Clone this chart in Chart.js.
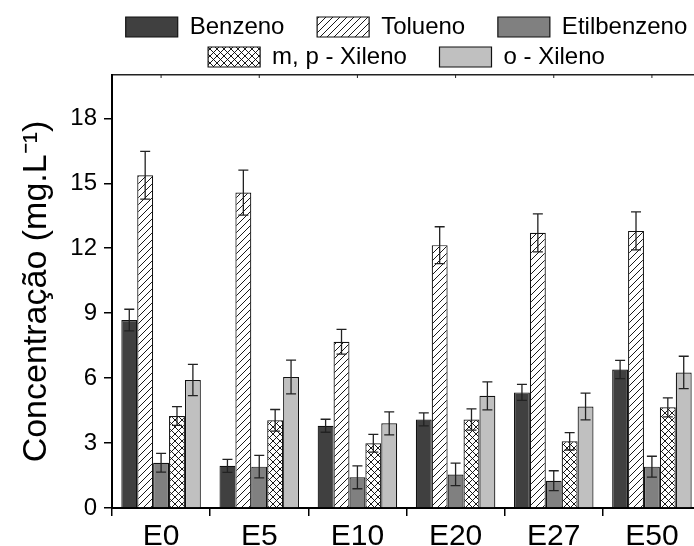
<!DOCTYPE html>
<html lang="pt">
<head>
<meta charset="UTF-8" />
<title>Concentração BTEX</title>
<script src="https://cdn.jsdelivr.net/npm/chart.js"></script>
<style>
  html, body { margin: 0; padding: 0; background: #fff; overflow: hidden; }
  .frame { width: 694px; height: 546px; overflow: hidden; }
</style>
</head>
<body>
<div class="frame">
  <canvas id="btexChart" width="702" height="558"></canvas>
</div>
<script>
// data
const categories = ['E0', 'E5', 'E10', 'E20', 'E27', 'E50'];
const seriesNames = ['Benzeno', 'Tolueno', 'Etilbenzeno', 'm, p - Xileno', 'o - Xileno'];

const benzeno       = [8.68, 1.95, 3.80, 4.09, 5.34, 6.40];
const benzenoErr    = [0.50, 0.30, 0.30, 0.30, 0.37, 0.42];
const tolueno       = [15.37, 14.57, 7.68, 12.14, 12.71, 12.80];
const toluenoErr    = [1.10, 1.04, 0.57, 0.85, 0.88, 0.88];
const etilbenzeno   = [2.09, 1.91, 1.42, 1.55, 1.26, 1.91];
const etilbenzenoErr= [0.43, 0.52, 0.53, 0.52, 0.46, 0.48];
const mpXileno      = [4.25, 4.05, 2.99, 4.09, 3.08, 4.65];
const mpXilenoErr   = [0.43, 0.50, 0.41, 0.49, 0.40, 0.44];
const oXileno       = [5.91, 6.05, 3.91, 5.18, 4.69, 6.26];
const oXilenoErr    = [0.72, 0.78, 0.53, 0.65, 0.62, 0.75];

const yTicks = [0, 3, 6, 9, 12, 15, 18];

Chart.defaults.font.family = '"Liberation Sans", Arial, sans-serif';
Chart.defaults.color = '#000';

// hatch fills
function makePattern(cross) {
    const s = 7;
    const c = document.createElement('canvas');
    c.width = s; c.height = s;
    const g = c.getContext('2d');
    g.fillStyle = '#fff';
    g.fillRect(0, 0, s, s);
    g.strokeStyle = '#000';
    g.lineWidth = 0.9;
    g.beginPath();
    g.moveTo(0, s); g.lineTo(s, 0);
    g.moveTo(-s / 2, s / 2); g.lineTo(s / 2, -s / 2);
    g.moveTo(s / 2, s * 1.5); g.lineTo(s * 1.5, s / 2);
    if (cross) {
        g.moveTo(0, 0); g.lineTo(s, s);
        g.moveTo(-s / 2, s / 2); g.lineTo(s / 2, s * 1.5);
        g.moveTo(s / 2, -s / 2); g.lineTo(s * 1.5, s / 2);
    }
    g.stroke();
    return g.createPattern(c, 'repeat');
}

const fills = ['#404040', makePattern(false), '#808080', makePattern(true), '#c0c0c0'];
const values = [benzeno, tolueno, etilbenzeno, mpXileno, oXileno];
const errors = [benzenoErr, toluenoErr, etilbenzenoErr, mpXilenoErr, oXilenoErr];

const datasets = seriesNames.map((name, i) => ({
    label: name,
    data: values[i],
    errors: errors[i],
    backgroundColor: fills[i],
    borderColor: '#111',
    borderWidth: 1.2,
    categoryPercentage: 0.81,
    barPercentage: 1.0
}));

// error bars drawn through the y scale, plus the small inward ticks on the top frame
const errorBars = {
    id: 'errorBars',
    afterDatasetsDraw(chart) {
        const ctx = chart.ctx;
        const y = chart.scales.y;
        const x = chart.scales.x;
        ctx.save();
        ctx.strokeStyle = '#222';
        ctx.lineWidth = 1.3;
        chart.data.datasets.forEach((ds, i) => {
            const meta = chart.getDatasetMeta(i);
            meta.data.forEach((bar, j) => {
                const v = ds.data[j], e = ds.errors[j];
                const top = y.getPixelForValue(v + e);
                const bot = y.getPixelForValue(v - e);
                const cap = 5;
                ctx.beginPath();
                ctx.moveTo(bar.x, top); ctx.lineTo(bar.x, bot);
                ctx.moveTo(bar.x - cap, top); ctx.lineTo(bar.x + cap, top);
                ctx.moveTo(bar.x - cap, bot); ctx.lineTo(bar.x + cap, bot);
                ctx.stroke();
            });
        });
        ctx.lineWidth = 1;
        ctx.beginPath();
        categories.forEach((c, i) => {
            const px = x.getPixelForTick(i);
            ctx.moveTo(px, chart.chartArea.top);
            ctx.lineTo(px, chart.chartArea.top + 3);
        });
        ctx.stroke();
        ctx.restore();
    }
};

const ctx = document.getElementById('btexChart').getContext('2d');
new Chart(ctx, {
    type: 'bar',
    data: { labels: categories, datasets: datasets },
    plugins: [errorBars],
    options: {
        responsive: false,
        animation: false,
        layout: { padding: { top: 9, right: 1, left: 0, bottom: 0 } },
        plugins: {
            tooltip: { enabled: false },
            legend: {
                position: 'top',
                fullSize: false,
                maxHeight: 66,
                labels: {
                    boxWidth: 52,
                    boxHeight: 20,
                    padding: 6,
                    font: { size: 24 },
                    color: '#000',
                    generateLabels(chart) {
                        const items = Chart.defaults.plugins.legend.labels.generateLabels(chart);
                        // wider gap between items on the same row
                        items.forEach((it, i) => { if (i !== 2 && i !== 4) it.text += '    '; });
                        return items;
                    }
                }
            }
        },
        scales: {
            x: {
                position: 'bottom',
                grid: { drawOnChartArea: false, tickLength: 8, color: '#000', lineWidth: 1.5 },
                border: { color: '#000', width: 2 },
                ticks: { font: { size: 30 }, color: '#000', padding: 3 }
            },
            x2: {
                type: 'category',
                position: 'top',
                grid: { drawOnChartArea: false, drawTicks: false },
                border: { color: '#222', width: 1.5 },
                ticks: { display: false }
            },
            y: {
                min: 0,
                max: 20,
                afterFit(scale) { scale.width = 112; },
                afterBuildTicks(scale) { scale.ticks = yTicks.map(v => ({ value: v })); },
                grid: { drawOnChartArea: false, tickLength: 8, color: '#000', lineWidth: 1.5 },
                border: { color: '#000', width: 2 },
                ticks: { font: { size: 24 }, color: '#000', padding: 7 },
                title: {
                    display: true,
                    text: 'Concentração (mg.L⁻¹)',
                    font: { size: 34 },
                    color: '#000',
                    padding: { top: 16, bottom: 0 }
                }
            }
        }
    }
});
</script>
</body>
</html>
